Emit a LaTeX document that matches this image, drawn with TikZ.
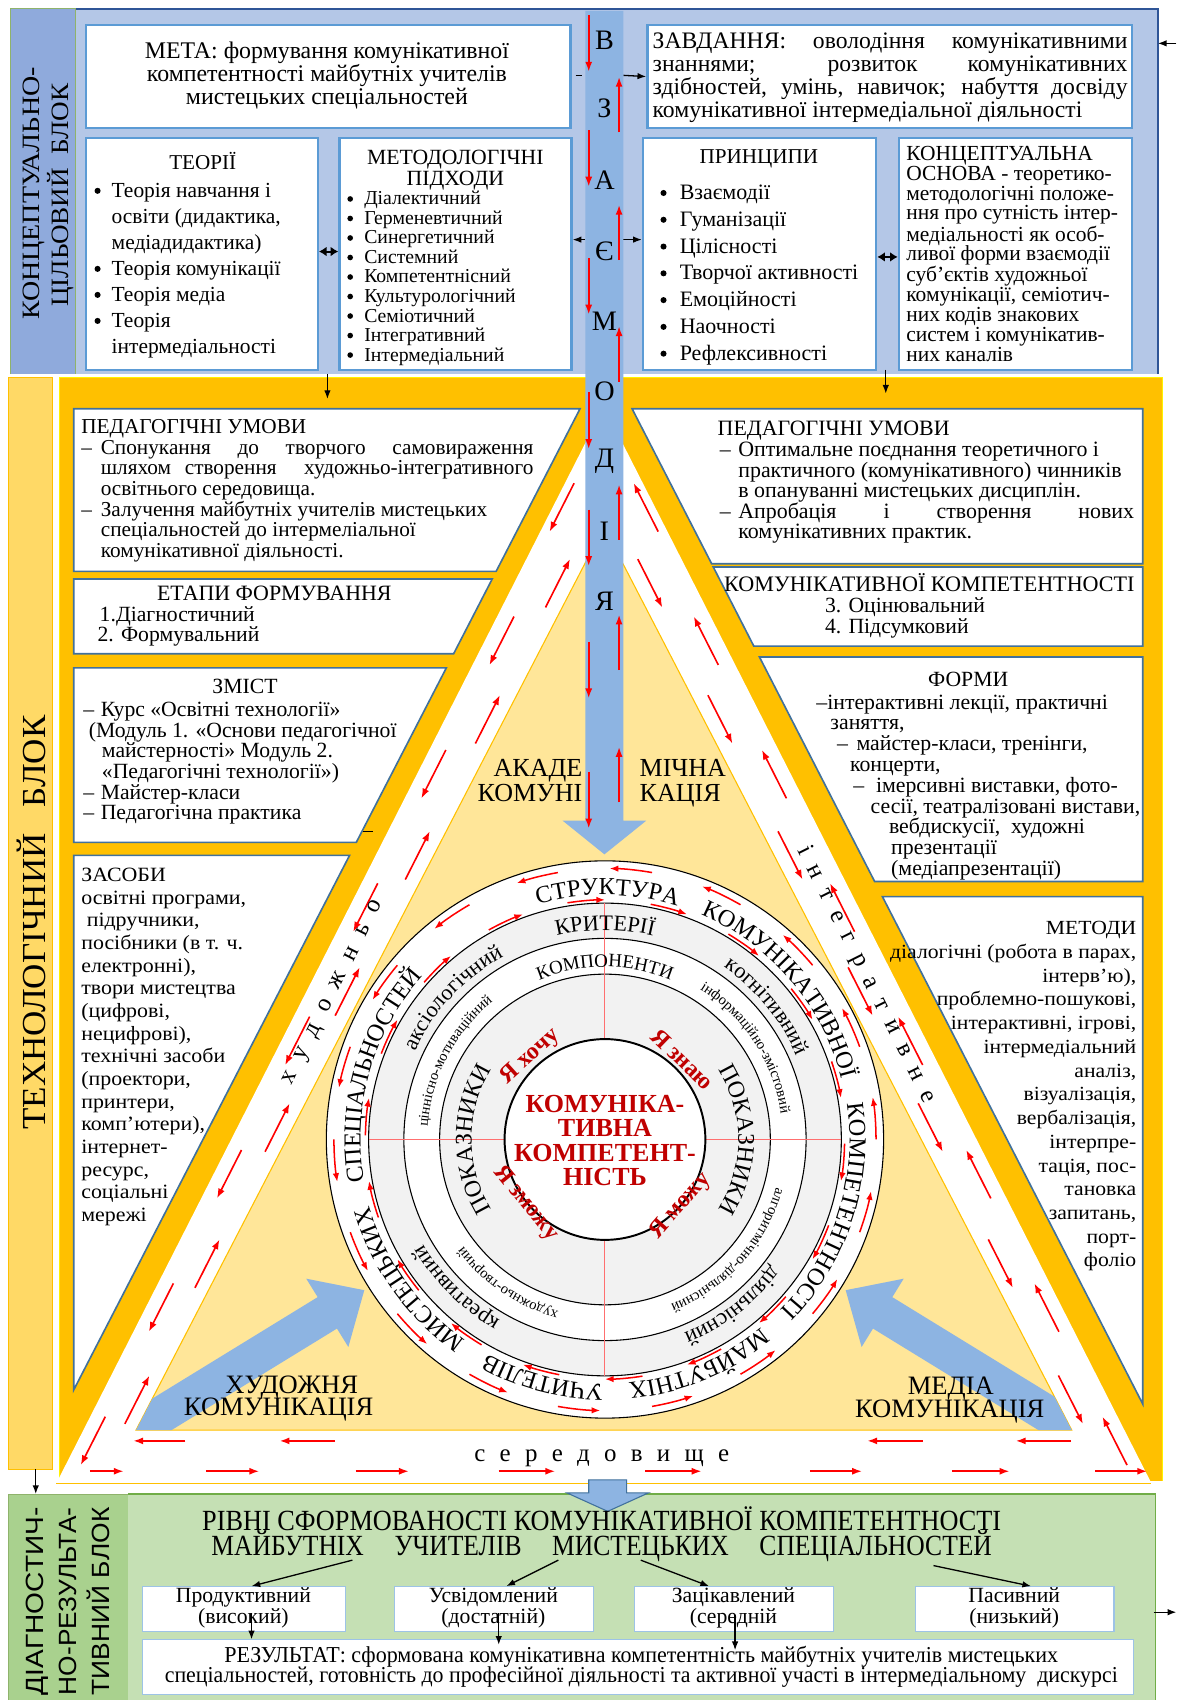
\documentclass[tikz,border=0pt]{standalone}
\usepackage{fontspec}
\usepackage{graphicx}
\setmainfont{Liberation Serif}
\newfontfamily\sansf{Liberation Sans}
\newfontfamily\wideserif[FakeStretch=1.08]{Liberation Serif}
\usetikzlibrary{arrows.meta,decorations.text}
\definecolor{topbg}{HTML}{B4C7E7}
\definecolor{toplabel}{HTML}{8FAADC}
\definecolor{bandblue}{HTML}{8DB4E2}
\definecolor{boxblue}{HTML}{5B9BD5}
\definecolor{darkblue}{HTML}{2F5597}
\definecolor{gold}{HTML}{FFC000}
\definecolor{lightgold}{HTML}{FFD966}
\definecolor{paleyellow}{HTML}{FFE699}
\definecolor{steel}{HTML}{41719C}
\definecolor{arrred}{HTML}{FF0000}
\definecolor{darkred}{HTML}{C00000}
\definecolor{ringgray}{HTML}{F2F2F2}
\definecolor{crossred}{HTML}{FF6F6F}
\definecolor{diaglabel}{HTML}{A9D18E}
\definecolor{diagbg}{HTML}{C5E0B4}
\definecolor{diagborder}{HTML}{70AD47}
\definecolor{lvlborder}{HTML}{9DC3E6}
\definecolor{labelgreen}{HTML}{8FB36B}
\newcommand\fsz[2]{\fontsize{#1}{#2}\selectfont}
\newcommand\lnC[2]{\hbox to #1{\hfil#2\hfil}}
\newcommand\lnJ[2]{\hbox to #1{#2}}
\newcommand\lnL[1]{\hbox{#1}}
\newcommand\lnR[2]{\hbox to #1{\hfil#2}}
\newcommand\ringfont{\fontsize{22.5}{22}\selectfont}
\newcommand\critfont{\fontsize{20.5}{19}\selectfont}
\newcommand\compfont{\fontsize{17.5}{17}\selectfont}
\newcommand\tinyring{\fontsize{13.5}{13}\selectfont}
\newcommand\pokfont{\fontsize{22}{22}\selectfont}
\newcommand\ringword[4]{%
  \pgfmathsetmacro\rwa{#1+75}\pgfmathsetmacro\rwb{#1-75}%
  \path[decorate,decoration={text along path,text align=center,text={|#3|#4}}]
    (\rwa:#2) arc[start angle=\rwa,end angle=\rwb,radius=#2];}
\begin{document}
\begin{tikzpicture}[x=1pt,y=-1pt,
  tbox/.style={draw=boxblue,line width=2.2pt,fill=white,inner sep=0pt,anchor=north west},
  sbox/.style={draw=steel,line width=1.5pt,fill=white},
  txt/.style={inner sep=0pt,outer sep=0pt},
  redarr/.style={draw=arrred,line width=1.5pt,-{Latex[length=9pt,width=6.5pt]}},
  ringarr/.style={draw=arrred,line width=1.4pt,-{Latex[length=8pt,width=6pt]}},
  blkarr/.style={draw=black,line width=1.2pt,-{Latex[length=8pt,width=6pt]}},
  dblarr/.style={draw=black,line width=1.8pt,{Latex[length=7pt,width=9pt]}-{Latex[length=7pt,width=9pt]}},
  lvl/.style={draw=lvlborder,line width=1pt,fill=white,inner sep=0pt,anchor=north west}]
\useasboundingbox (0,0) rectangle (1085,1568);
\fill[white] (0,0) rectangle (1085,1568);

% ================= CONCEPTUAL BLOCK
\fill[toplabel] (10,8) rectangle (70,345);
\draw[labelgreen,line width=1pt] (10,345) -- (10,8) -- (70,8) -- (70,345);
\fill[topbg] (70,8) rectangle (1068,345);
\draw[darkblue,line width=1.6pt] (70,8) -- (1068,8) -- (1068,345);
\node[txt,rotate=90,font=\fsz{23}{23}] (lab1a) at (31,178.5) {\resizebox{233pt}{\height}{КОНЦЕПТУАЛЬНО-}};
\node[txt,rotate=90,font=\fsz{23}{23}] (lab1b) at (56,180) {\resizebox{206pt}{\height}{ЦІЛЬОВИЙ\ \ БЛОК}};

\node[tbox,minimum width=447pt,minimum height=95pt] (meta) at (78,22) {};
\node[tbox,minimum width=447pt,minimum height=95pt] (zavd) at (596,22) {};
\node[tbox,minimum width=214pt,minimum height=214pt] (theor) at (78,126) {};
\node[tbox,minimum width=214pt,minimum height=214pt] (method) at (312,126) {};
\node[tbox,minimum width=215pt,minimum height=214pt] (princ) at (592,126) {};
\node[tbox,minimum width=215pt,minimum height=214pt] (conc) at (828,126) {};

\node[txt,anchor=base,font=\fsz{22}{21}] (metat) at (301.5,54) {\vtop{\lnC{440pt}{МЕТА: формування комунікативної}\lnC{440pt}{компетентності майбутніх учителів}\lnC{440pt}{мистецьких спеціальностей}}};
\node[txt,anchor=base west,font=\fsz{21.8}{21}] (zavdt) at (602,45) {\vtop{\lnJ{438pt}{ЗАВДАННЯ: оволодіння комунікативними}\lnJ{438pt}{знаннями; розвиток комунікативних}\lnJ{438pt}{здібностей, умінь, навичок; набуття досвіду}\lnL{комунікативної інтермедіальної діяльності}}};

\node[txt,anchor=base,font=\fsz{19.5}{20}] (theort) at (187,156) {ТЕОРІЇ};
\node[txt,anchor=base west,font=\fsz{19.8}{24}] (theori) at (103,182) {\vtop{\lnL{Теорія навчання і}\lnL{освіти (дидактика,}\lnL{медіадидактика)}\lnL{Теорія комунікації}\lnL{Теорія медіа}\lnL{Теорія}\lnL{інтермедіальності}}};
\foreach \yb in {182,254,278,302} \fill (90,\yb-6) circle (2.8);

\node[txt,anchor=base,font=\fsz{20}{19}] (methodt) at (420,152) {\vtop{\lnC{200pt}{МЕТОДОЛОГІЧНІ}\lnC{200pt}{ПІДХОДИ}}};
\node[txt,anchor=base west,font=\fsz{18.2}{18}] (methodi) at (336,189) {\vtop{\lnL{Діалектичний}\lnL{Герменевтичний}\lnL{Синергетичний}\lnL{Системний}\lnL{Компетентнісний}\lnL{Культурологічний}\lnL{Семіотичний}\lnL{Інтегративний}\lnL{Інтермедіальний}}};
\foreach \k in {0,...,8} \fill (323,189+18*\k-5.5) circle (2.6);

\node[txt,anchor=base,font=\fsz{19.5}{20}] (princt) at (700,151) {ПРИНЦИПИ};
\node[txt,anchor=base west,font=\fsz{20.3}{24.7}] (princi) at (627,184) {\vtop{\lnL{Взаємодії}\lnL{Гуманізації}\lnL{Цілісності}\lnL{Творчої активності}\lnL{Емоційності}\lnL{Наочності}\lnL{Рефлексивності}}};
\foreach \k in {0,...,6} \fill (612,184+24.7*\k-6) circle (2.8);

\node[txt,anchor=base west,font=\fsz{19.8}{18.3}] (conct) at (836,148) {\vtop{\lnL{КОНЦЕПТУАЛЬНА}\lnL{ОСНОВА - теоретико-}\lnL{методологічні положе-}\lnL{ння про сутність інтер-}\lnL{медіальності як особ-}\lnL{ливої форми взаємодії}\lnL{суб’єктів художньої}\lnL{комунікації, семіотич-}\lnL{них кодів знакових}\lnL{систем і комунікатив-}\lnL{них каналів}}};

\coordinate (ya) at (0,232);
\coordinate (yb) at (0,237);
\draw[dblarr] (theor.east |- ya) -- (method.west |- ya);
\draw[dblarr] (princ.east |- yb) -- (conc.west |- yb);
\coordinate (bandR1) at (575,69.5);
\draw[blkarr] (bandR1) -- (zavd.west);
\draw[black,line width=1pt] (531,69.5) -- (537,69.5);
\coordinate (bandL2) at (540,221);
\coordinate (bandR2) at (575,221);
\draw[blkarr] (bandL2) -- (method.east |- bandL2);
\draw[blkarr] (bandR2) -- (princ.west |- bandR2);
\coordinate (topR) at (1085,40);
\coordinate (topRe) at (1068,40);
\draw[blkarr] (topR) -- (topRe);

% ================= TECHNOLOGICAL BLOCK
\fill[lightgold] (8,348) rectangle (48,1355);
\draw[gold,line width=0.8pt] (8,348) rectangle (48,1355);
\node[txt,rotate=90,font=\fsz{31}{31}] (lab2) at (29,851) {\resizebox{382pt}{\height}{ТЕХНОЛОГІЧНИЙ\ \ \ БЛОК}};
\fill[gold] (55,348) rectangle (1072,1366);
\draw[yellow,line width=1.2pt] (55,1366) -- (55,348) -- (1072,348) -- (1072,1366);
\fill[white] (557,375) -- (1062,1368) -- (52,1368) -- cycle;
\draw[gold,line width=1.2pt] (52,1368) -- (1062,1368);
\filldraw[fill=paleyellow,draw=gold,line width=1pt] (557,486) -- (988.5,1319) -- (125.5,1319) -- cycle;

\path[sbox] (68,377) -- (535,377) -- (457.6,527) -- (68,527) -- cycle;
\path[sbox] (68,534) -- (454,534) -- (418.4,603) -- (68,603) -- cycle;
\path[sbox] (68,616) -- (411.7,616) -- (328.6,777) -- (68,777) -- cycle;
\path[sbox] (68,789) -- (322.4,789) -- (68,1282) -- cycle;
\path[sbox] (583,377) -- (1054,377) -- (1054,520) -- (656.4,520) -- cycle;
\path[sbox] (657.9,523) -- (1054,523) -- (1054,596) -- (695.3,596) -- cycle;
\path[sbox] (700.5,606) -- (1054,606) -- (1054,813) -- (806.7,813) -- cycle;
\path[sbox] (813.9,827) -- (1054,827) -- (1054,1295) -- cycle;
\draw[black,line width=0.8pt] (335,767) -- (344,767);

\node[txt,anchor=base west,font=\fsz{19.6}{19}] (pul) at (75,400) {\vtop{\lnL{ПЕДАГОГІЧНІ УМОВИ}\lnL{\makebox[18pt][l]{–}\lnJ{399pt}{Спонукання до творчого самовираження}}\lnL{\hspace*{18pt}\lnJ{399pt}{шляхом створення\ \ художньо-інтегративного}}\lnL{\hspace*{18pt}освітнього середовища.}\lnL{\makebox[18pt][l]{–}Залучення майбутніх учителів мистецьких}\lnL{\hspace*{18pt}спеціальностей до інтермеліальної}\lnL{\hspace*{18pt}комунікативної діяльності.}}};
\node[txt,anchor=base,font=\fsz{20.2}{19}] (etapt) at (253,554) {ЕТАПИ ФОРМУВАННЯ};
\node[txt,anchor=base west,font=\fsz{20}{19}] (etap1) at (92,573) {1.Діагностичний};
\node[txt,anchor=base west,font=\fsz{20}{19}] (etap2) at (90,592) {2. Формувальний};
\node[txt,anchor=base,font=\fsz{20}{19}] (zmt) at (226,640) {ЗМІСТ};
\node[txt,anchor=base west,font=\fsz{20}{19}] (zmi) at (77,661) {\vtop{\lnL{\makebox[16pt][l]{–}Курс «Освітні технології»}\lnL{\hspace*{5pt}(Модуль 1. «Основи педагогічної}\lnL{\hspace*{17pt}майстерності» Модуль 2.}\lnL{\hspace*{17pt}«Педагогічні технології»)}\lnL{\makebox[16pt][l]{–}Майстер-класи}\lnL{\makebox[16pt][l]{–}Педагогічна практика}}};
\node[txt,anchor=base west,font={\wideserif\fsz{18.7}{20.9}}] (zas) at (75,813) {\vtop{\lnL{ЗАСОБИ}\lnL{освітні програми,}\lnL{\ підручники,}\lnL{посібники (в т. ч.}\lnL{електронні),}\lnL{твори мистецтва}\lnL{(цифрові,}\lnL{нецифрові),}\lnL{технічні засоби}\lnL{(проектори,}\lnL{принтери,}\lnL{комп’ютери),}\lnL{інтернет-}\lnL{ресурс,}\lnL{соціальні}\lnL{мережі}}};

\node[txt,anchor=base west,font=\fsz{20.2}{19}] (pur) at (662,402) {\vtop{\lnL{ПЕДАГОГІЧНІ УМОВИ}\lnL{\hspace*{2pt}\makebox[17pt][l]{–}Оптимальне поєднання теоретичного і}\lnL{\hspace*{19pt}практичного (комунікативного) чинників}\lnL{\hspace*{19pt}в опануванні мистецьких дисциплін.}\lnL{\hspace*{2pt}\makebox[17pt][l]{–}\lnJ{365pt}{Апробація і створення нових}}\lnL{\hspace*{19pt}комунікативних практик.}}};
\node[txt,anchor=base west,font=\fsz{20.4}{19}] (kkt) at (668,546) {КОМУНІКАТИВНОЇ КОМПЕТЕНТНОСТІ};
\node[txt,anchor=base west,font=\fsz{20}{19}] (kk3) at (761,565) {\vtop{\lnL{3. Оцінювальний}\lnL{4. Підсумковий}}};
\node[txt,anchor=base,font=\fsz{20}{19}] (formt) at (893,633) {ФОРМИ};
\node[txt,anchor=base west,font=\fsz{20.1}{19.2}] (formi) at (753,654) {\vtop{\lnL{–інтерактивні лекції, практичні}\lnL{\hspace*{13pt}заняття,}\lnL{\hspace*{19pt}\makebox[18pt][l]{–}майстер-класи, тренінги,}\lnL{\hspace*{31pt}концерти,}\lnL{\hspace*{34pt}\makebox[21pt][l]{–}імерсивні виставки, фото-}\lnL{\hspace*{50pt}сесії, театралізовані вистави,}\lnL{\hspace*{67pt}вебдискусії,\ \ художні}\lnL{\hspace*{69pt}презентації}\lnL{\hspace*{69pt}(медіапрезентації)}}};
\node[txt,anchor=base east,font={\wideserif\fsz{18.5}{21.9}}] (metd) at (1048,862) {\vtop{\lnR{260pt}{МЕТОДИ}\lnR{260pt}{діалогічні (робота в парах,}\lnR{260pt}{інтерв’ю),}\lnR{260pt}{проблемно-пошукові,}\lnR{260pt}{інтерактивні, ігрові,}\lnR{260pt}{інтермедіальний}\lnR{260pt}{аналіз,}\lnR{260pt}{візуалізація,}\lnR{260pt}{вербалізація,}\lnR{260pt}{інтерпре-}\lnR{260pt}{тація, пос-}\lnR{260pt}{тановка}\lnR{260pt}{запитань,}\lnR{260pt}{порт-}\lnR{260pt}{фоліо}}};

\coordinate (dA1) at (302,345);
\coordinate (dA2) at (302,368);
\draw[blkarr] (dA1) -- (dA2);
\coordinate (dB1) at (817,341);
\coordinate (dB2) at (817,363);
\draw[blkarr] (dB1) -- (dB2);

% red arrows in the white band
\foreach \yc in {468,591,714,837,960,1083,1206,1329} {
  \pgfmathsetmacro\xa{557-0.508*(\yc-375)}
  \pgfmathsetmacro\xb{ifthenelse(\yc>486,557-0.518*(\yc-486),540)}
  \pgfmathsetmacro\xc{\xa+0.28*(\xb-\xa)}
  \pgfmathsetmacro\xr{1114-\xc}
  \draw[redarr] (\xc+11.3,\yc-22.3) -- (\xc-11.3,\yc+22.3);
  \draw[redarr] (\xr+11.3,\yc+22.3) -- (\xr-11.3,\yc-22.3);
}
\foreach \yc in {538,663.5,789,914.5,1040,1165.5,1291} {
  \pgfmathsetmacro\xa{557-0.508*(\yc-375)}
  \pgfmathsetmacro\xb{557-0.518*(\yc-486)}
  \pgfmathsetmacro\xc{\xa+0.72*(\xb-\xa)}
  \pgfmathsetmacro\xr{1114-\xc}
  \draw[redarr] (\xc-11.3,\yc+22.3) -- (\xc+11.3,\yc-22.3);
  \draw[redarr] (\xr-11.3,\yc-22.3) -- (\xr+11.3,\yc+22.3);
}
\foreach \xs/\xe in {171/123,309/258,851/800,988/937} \draw[redarr] (\xs,1329) -- (\xe,1329);
\foreach \xs/\xe in {83/114,190/239,328/377,460/512,595/647,747/795,878/931,1010/1058} \draw[redarr] (\xs,1357) -- (\xe,1357);

% big blue arrows
\begin{scope}
\clip (557,486) -- (988.5,1319) -- (125.5,1319) -- cycle;
\fill[bandblue] (88.5,1321.9) -- (293,1196.4) -- (282.5,1179.4) -- (336,1190) -- (321.3,1242.4) -- (310.8,1225.4) -- (106.3,1350.9) -- cycle;
\fill[bandblue] (1027.5,1321.9) -- (823,1196.4) -- (833.5,1179.4) -- (780,1190) -- (794.7,1242.4) -- (805.2,1225.4) -- (1009.7,1350.9) -- cycle;
\end{scope}

\node[txt,anchor=base east,font=\fsz{24}{23}] (akl) at (537,716) {\vtop{\lnR{100pt}{АКАДЕ}\lnR{100pt}{КОМУНІ}}};
\node[txt,anchor=base west,font=\fsz{24}{23}] (akr) at (590,716) {\vtop{\lnL{МІЧНА}\lnL{КАЦІЯ}}};
\node[txt,anchor=base,font=\fsz{24.5}{22}] (hk1) at (269,1285) {ХУДОЖНЯ};
\node[txt,anchor=base,font=\fsz{24.5}{22}] (hk2) at (257,1306) {КОМУНІКАЦІЯ};
\node[txt,anchor=base,font=\fsz{24.5}{22}] (mk1) at (877,1286) {МЕДІА};
\node[txt,anchor=base,font=\fsz{24.5}{22}] (mk2) at (876,1307) {КОМУНІКАЦІЯ};
\node[txt,rotate=63.4,font=\fsz{23}{22}] (hud) at (308,916) {\makebox[188pt][s]{х у д о ж н ь о}};
\node[txt,rotate=-63.4,font=\fsz{23}{22}] (integ) at (799,899) {\makebox[262pt][s]{і н т е г р а т и в н е}};
\node[txt,anchor=base,font=\fsz{23}{22}] (sered) at (555,1348) {\makebox[235pt][s]{с е р е д о в и щ е}};

% ================= CIRCLE
\begin{scope}[shift={(558,1051)},y=1pt]
  \filldraw[fill=white,draw=black,line width=1pt] (0,0) circle (257);
  \filldraw[fill=ringgray,draw=black,line width=1pt] (0,0) circle (218);
  \filldraw[fill=white,draw=black,line width=1pt] (0,0) circle (185.5);
  \filldraw[fill=ringgray,draw=black,line width=1pt] (0,0) circle (152.5);
  \draw[crossred,line width=0.9pt] (0,92) -- (0,218) (0,-92) -- (0,-218) (92,0) -- (218,0) (-92,0) -- (-218,0);
  \filldraw[fill=white,draw=black,line width=1.8pt] (0,0) circle (92.6);
  \path[decorate,decoration={text along path,text align={fit to path stretching spaces},text={|\ringfont|СТРУКТУРА КОМУНІКАТИВНОЇ КОМПЕТЕНТНОСТІ МАЙБУТНІХ УЧИТЕЛІВ МИСТЕЦЬКИХ СПЕЦІАЛЬНОСТЕЙ}}] (106:225.5) arc[start angle=106,end angle=-222,radius=225.5];
  \ringword{90}{193}{\critfont}{КРИТЕРІЇ}
  \ringword{137}{193}{\critfont}{аксіологічний}
  \ringword{39.5}{193}{\critfont}{когнітивний}
  \ringword{-52.5}{193}{\critfont}{діяльнісний}
  \ringword{225}{193}{\critfont}{креативний}
  \ringword{90}{159}{\compfont}{КОМПОНЕНТИ}
  \ringword{152.5}{164}{\tinyring}{ціннісно-мотиваційний}
  \ringword{33}{164}{\tinyring}{інформаційно-змістовий}
  \ringword{-42}{164}{\tinyring}{алгоритмічно-діяльнісний}
  \ringword{236}{164}{\tinyring}{художньо-творчий}
  \ringword{180}{123}{\pokfont}{ПОКАЗНИКИ}
  \ringword{0}{123}{\pokfont}{ПОКАЗНИКИ}
  \node[txt,rotate=42,font=\bfseries\fsz{22}{22},text=darkred] (ya1) at (-68.9,76.5) {Я хочу};
  \node[txt,rotate=-44,font=\bfseries\fsz{22}{22},text=darkred] (ya2) at (71.5,74.1) {Я знаю};
  \node[txt,rotate=-51,font=\bfseries\fsz{22}{22},text=darkred] (ya3) at (-73,-59) {Я зможу};
  \node[txt,rotate=49,font=\bfseries\fsz{22}{22},text=darkred] (ya4) at (70,-61) {Я можу};
  \node[txt,align=center,font=\bfseries\fsz{24}{22.5},text=darkred] (core) at (0,-1) {КОМУНІКА-\\ТИВНА\\КОМПЕТЕНТ-\\НІСТЬ};
  \foreach \a in {0,20,...,340} {
    \pgfmathsetmacro\b{\a+9}
    \draw[ringarr] (\a:250) arc[start angle=\a,end angle=\b,radius=250];
  }
  \foreach \a in {10,30,...,350} {
    \pgfmathsetmacro\b{\a+9}
    \draw[ringarr] (\b:221) arc[start angle=\b,end angle=\a,radius=221];
  }
\end{scope}

% ================= vertical band
\fill[bandblue] (540,10) -- (575,10) -- (575,757) -- (596,757) -- (557.5,788) -- (519,757) -- (540,757) -- cycle;
\foreach \ch/\yy [count=\i] in {В/37,З/100,А/166,Є/232,М/296,О/361,Д/425,І/490,Я/555}
  \node[txt,font=\fsz{26}{26}] (bl\i) at (557.5,\yy) {\ch};
\foreach \ya in {14,120,238,362,470,592,712} \draw[redarr] (543,\ya) -- (543,\ya+52);
\foreach \ya in {122,240,352,498,618,740} \draw[redarr] (571,\ya) -- (571,\ya-51);

% ================= DIAGNOSTIC BLOCK
\coordinate (dC1) at (33,1355);
\coordinate (dC2) at (33,1378);
\draw[blkarr] (dC1) -- (dC2);
\fill[diaglabel] (8,1378) rectangle (118,1568);
\draw[labelgreen,line width=0.8pt] (8,1568) -- (8,1378) -- (118,1378) -- (118,1568);
\fill[diagbg] (118,1378) rectangle (1066,1568);
\draw[diagborder,line width=1.2pt] (118,1378) -- (1066,1378) -- (1066,1568);
\filldraw[fill=bandblue,draw=steel,line width=1pt] (543,1365) -- (578,1365) -- (578,1377) -- (598,1377) -- (560.5,1394) -- (523,1377) -- (543,1377) -- cycle;
\node[txt,rotate=90,font={\sansf\fsz{23}{23}}] (dl1) at (34,1477) {\resizebox{173pt}{\height}{ДІАГНОСТИЧ-}};
\node[txt,rotate=90,font={\sansf\fsz{23}{23}}] (dl2) at (63,1477) {\resizebox{173pt}{\height}{НО-РЕЗУЛЬТА-}};
\node[txt,rotate=90,font={\sansf\fsz{23}{23}}] (dl3) at (91,1477) {\resizebox{173pt}{\height}{ТИВНИЙ БЛОК}};

\node[txt,anchor=base,font=\fsz{27}{23}] (lvt1) at (555,1412) {\resizebox{737pt}{\height}{РІВНІ СФОРМОВАНОСТІ КОМУНІКАТИВНОЇ КОМПЕТЕНТНОСТІ}};
\node[txt,anchor=base,font=\fsz{27}{23}] (lvt2) at (555,1435) {\resizebox{720pt}{\height}{МАЙБУТНІХ\hspace{1.2em}УЧИТЕЛІВ\hspace{1.2em}МИСТЕЦЬКИХ\hspace{1.2em}СПЕЦІАЛЬНОСТЕЙ}};

\node[lvl,minimum width=187pt,minimum height=41pt] (lv1) at (131,1463) {};
\node[lvl,minimum width=184pt,minimum height=41pt] (lv2) at (363,1463) {};
\node[lvl,minimum width=183pt,minimum height=41pt] (lv3) at (585,1463) {};
\node[lvl,minimum width=183pt,minimum height=41pt] (lv4) at (844,1463) {};
\node[lvl,minimum width=914pt,minimum height=50pt] (res) at (131,1512) {};

\node[txt,anchor=base,font=\fsz{20}{19}] (lv1t) at (224.5,1478) {\vtop{\lnC{180pt}{Продуктивний}\lnC{180pt}{(високий)}}};
\node[txt,anchor=base,font=\fsz{20}{19}] (lv2t) at (455,1478) {\vtop{\lnC{180pt}{Усвідомлений}\lnC{180pt}{(достатній)}}};
\node[txt,anchor=base,font=\fsz{20}{19}] (lv3t) at (676.5,1478) {\vtop{\lnC{180pt}{Зацікавлений}\lnC{180pt}{(середній}}};
\node[txt,anchor=base,font=\fsz{20}{19}] (lv4t) at (935.5,1478) {\vtop{\lnC{180pt}{Пасивний}\lnC{180pt}{(низький)}}};
\node[txt,anchor=base,font=\fsz{21}{19}] (res1) at (591.5,1533) {\resizebox{769pt}{\height}{РЕЗУЛЬТАТ: сформована комунікативна компетентність майбутніх учителів мистецьких}};
\node[txt,anchor=base,font=\fsz{21}{19}] (res2) at (591.5,1552) {\resizebox{879pt}{\height}{спеціальностей, готовність до професійної діяльності та активної участі в інтермедіальному\ \ дискурсі}};

\coordinate (tt1) at (325,1439);
\coordinate (tt2) at (515,1439);
\coordinate (tt3) at (591,1439);
\coordinate (tt4) at (861,1444);
\draw[blkarr] (tt1) -- (lv1.north -| 232,0);
\draw[blkarr] (tt2) -- (lv2.north -| 467,0);
\draw[blkarr] (tt3) -- (lv3.north -| 654,0);
\draw[blkarr] (tt4) -- (lv4.north -| 951,0);
\draw[blkarr] (lv1.north -| 232,0) ++(0,25) -- (res.north -| 232,0);
\draw[blkarr] (lv2.north -| 460,0) ++(0,25) -- ([yshift=-5pt]res.north -| 460,0);
\draw[blkarr] (lv3.north -| 678,0) ++(0,27) -- ([yshift=-10pt]res.north -| 678,0);
\coordinate (botR1) at (1064,1487);
\coordinate (botR2) at (1085,1487);
\draw[blkarr] (botR1) -- (botR2);
\end{tikzpicture}
\end{document}
